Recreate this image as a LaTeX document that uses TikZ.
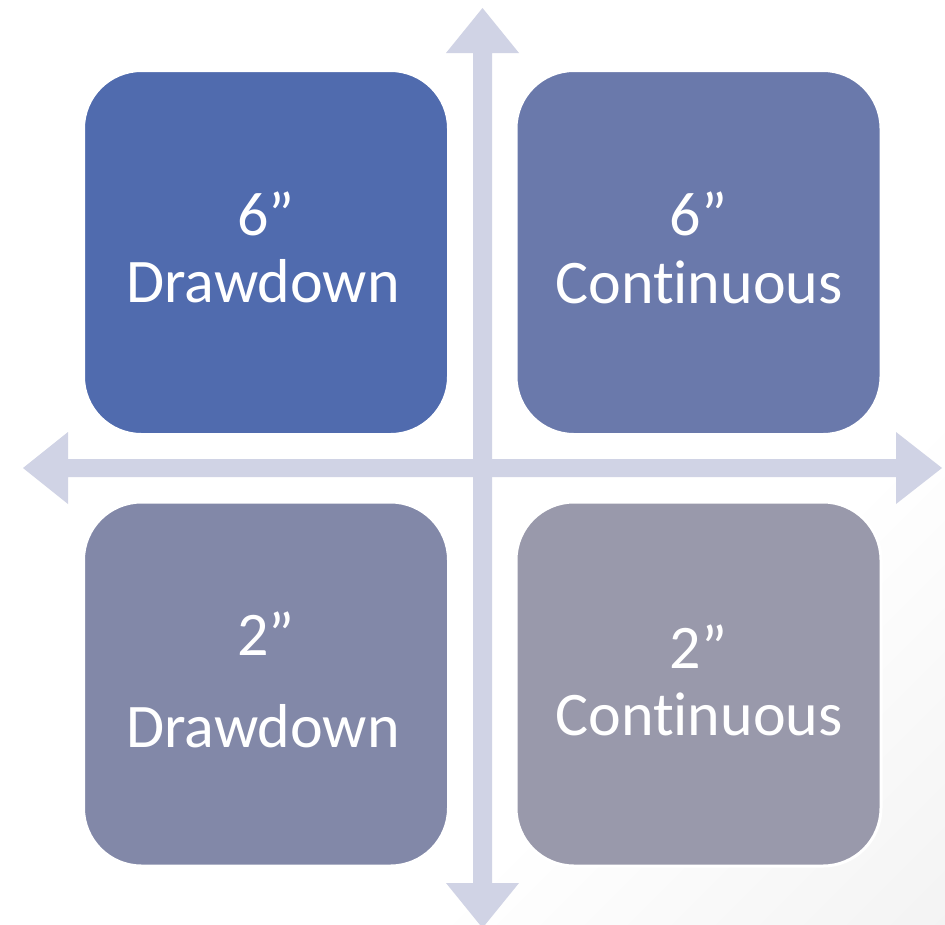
\documentclass[tikz,border=0pt]{standalone}
\usepackage{fontspec}
\setmainfont[Ligatures=NoCommon]{Carlito}
\definecolor{axiscol}{RGB}{208,211,229}
\definecolor{qtl}{RGB}{80,107,174}
\definecolor{qtr}{RGB}{106,121,171}
\definecolor{qbl}{RGB}{130,136,168}
\definecolor{qbr}{RGB}{153,153,171}
\pgfdeclarehorizontalshading{bgshade}{100bp}{color(0bp)=(white); color(66bp)=(white); color(100bp)=(black!8)}
\newcommand{\contword}{Cont\kern0pt inuous}
\tikzset{
  quad/.style={rounded corners=58pt, draw=white, line width=3pt, minimum width=365pt, minimum height=364pt, inner sep=0pt},
  lbl/.style={anchor=base, text=white, inner sep=0pt, font=\fontsize{62}{68}\selectfont},
  axisfill/.style={fill=axiscol}
}
\begin{document}
\begin{tikzpicture}[x=1pt,y=-1pt]
\useasboundingbox (0,0) rectangle (945,924);
\shade[shading=bgshade, shading angle=-45] (0,0) rectangle (945,924);
% axes
\fill[axisfill] (482.5,8) -- (519,53) -- (492,53) -- (492,883) -- (519,883) -- (482.5,928) -- (446,883) -- (473,883) -- (473,53) -- (446,53) -- cycle;
\fill[axisfill] (23,468) -- (68,432) -- (68,459) -- (896,459) -- (896,432) -- (942,468) -- (896,504) -- (896,477) -- (68,477) -- (68,504) -- cycle;
% quadrants
\node[quad, fill=qtl] (tl) at (266,252.5) {};
\node[quad, fill=qtr] (tr) at (698.5,252.5) {};
\node[quad, fill=qbl] (bl) at (266,684) {};
\node[quad, fill=qbr] (br) at (698.5,684) {};
% labels
\node[lbl] (tla) at (266,235) {6”};
\node[lbl] (tlb) at (263,302) {Drawdown};
\node[lbl] (tra) at (698.5,235) {6”};
\node[lbl] (trb) at (699,303) {\contword};
\node[lbl] (bla) at (266,655) {2”};
\node[lbl] (blb) at (263,747) {Drawdown};
\node[lbl] (bra) at (698.5,668) {2”};
\node[lbl] (brb) at (699,735) {\contword};
\end{tikzpicture}
\end{document}
